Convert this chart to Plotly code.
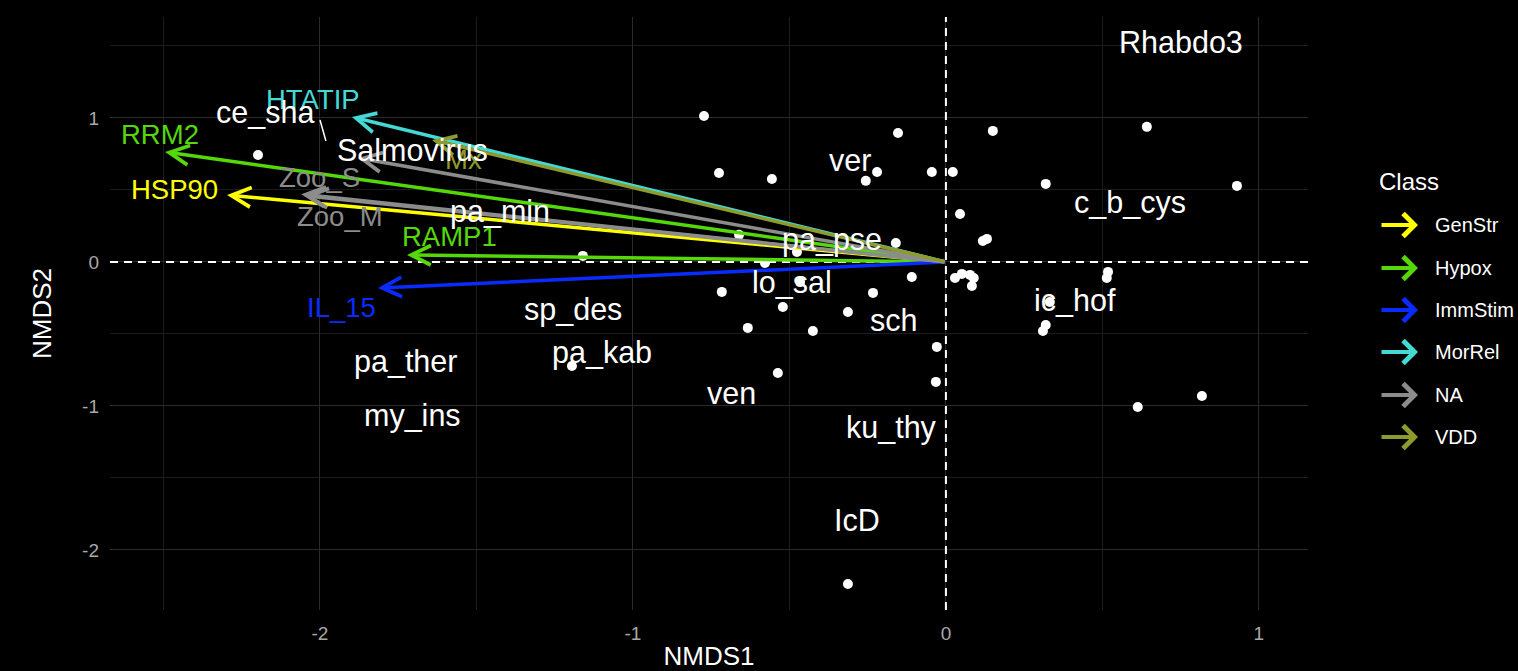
import plotly.graph_objects as go

# ---------------- data ----------------
# site scores (points)
pt_x = [-0.773, -2.198, -0.725, -0.556, -0.153, -0.220, -0.256, -0.045, 0.022, 0.045,
        0.150, 0.118, 0.131, 0.642, 0.319, 0.930, -0.160, -0.661, -0.476, -0.578,
        -1.160, -0.109, -0.466, -0.716, -0.233, -0.521, -0.313, -0.633, -0.425, -0.029,
        -0.537, -0.032, -0.313, -1.195, 0.029, 0.051, 0.077, 0.089, 0.083, 0.518,
        0.514, 0.332, 0.319, 0.310, 0.613, 0.818]
pt_y = [1.014, 0.743, 0.618, 0.576, 0.896, 0.625, 0.563, 0.625, 0.625, 0.333,
        0.910, 0.146, 0.160, 0.938, 0.542, 0.528, 0.132, 0.188, 0.069, -0.007,
        0.042, -0.104, -0.140, -0.208, -0.215, -0.313, -0.347, -0.458, -0.479, -0.590,
        -0.771, -0.833, -2.236, -0.722, -0.111, -0.083, -0.090, -0.111, -0.167, -0.069,
        -0.111, -0.278, -0.438, -0.479, -1.007, -0.931]

# species / pathogen labels
sp_names = ["Rhabdo3", "ce_sha", "Salmovirus", "ver", "c_b_cys", "pa_min", "pa_pse",
            "lo_sal", "ic_hof", "sch", "sp_des", "pa_kab", "pa_ther", "my_ins", "ven",
            "ku_thy", "IcD"]
sp_x = [0.751, -2.176, -1.706, -0.307, 0.588, -1.425, -0.364, -0.492, 0.412, -0.169,
        -1.192, -1.099, -1.728, -1.703, -0.684, -0.173, -0.284]
sp_y = [1.528, 1.042, 0.778, 0.708, 0.410, 0.347, 0.153, -0.139, -0.264, -0.403,
        -0.333, -0.632, -0.694, -1.063, -0.910, -1.153, -1.792]
# repel segment for ce_sha
seg_x = [-2.000, -1.981]
seg_y = [0.986, 0.840]

# gene vectors (arrows from origin)
vec_names = ["HSP90", "RRM2", "RAMP1", "IL_15", "HTATIP", "Zoo_S", "Zoo_M", "", "Mx"]
vec_class = ["GenStr", "Hypox", "Hypox", "ImmStim", "MorRel", "NA", "NA", "NA", "VDD"]
vec_x = [-2.297, -2.495, -1.722, -1.815, -1.898, -2.060, -2.050, -1.879, -1.642]
vec_y = [0.465, 0.764, 0.049, -0.181, 1.007, 0.470, 0.460, 0.722, 0.847]
vlab_x = [-2.466, -2.511, -1.585, -1.930, -2.022, -2.000, -1.936, None, -1.543]
vlab_y = [0.500, 0.882, 0.174, -0.319, 1.125, 0.583, 0.313, None, 0.708]

classes = ["GenStr", "Hypox", "ImmStim", "MorRel", "NA", "VDD"]
class_colors = ["#FFFF00", "#55D80A", "#0A2BFF", "#45D9D6", "#8C8C8C", "#8E9B2C"]
cmap = dict(zip(classes, class_colors))

x_range = [-2.671, 1.157]
y_range = [-2.417, 1.701]
ticks = [-2, -1, 0, 1]

FONT = "Liberation Sans, Arial, sans-serif"

# ---------------- figure ----------------
fig = go.Figure()

# dashed zero reference lines (spanning the axis ranges)
fig.add_trace(go.Scatter(
    x=x_range, y=[0, 0], mode="lines",
    line=dict(color="white", width=2, dash="8px,6px"),
    showlegend=False, hoverinfo="skip"))
fig.add_trace(go.Scatter(
    x=[0, 0], y=y_range, mode="lines",
    line=dict(color="white", width=2, dash="8px,6px"),
    showlegend=False, hoverinfo="skip"))

fig.add_trace(go.Scatter(
    x=pt_x, y=pt_y, mode="markers",
    marker=dict(color="white", size=10, line=dict(width=0)),
    showlegend=False, hoverinfo="skip"))

fig.add_trace(go.Scatter(
    x=seg_x, y=seg_y, mode="lines",
    line=dict(color="white", width=1.5),
    showlegend=False, hoverinfo="skip"))

annotations = []
# arrows
for name, cl, tx, ty in zip(vec_names, vec_class, vec_x, vec_y):
    annotations.append(dict(
        x=tx, y=ty, xref="x", yref="y", ax=0, ay=0, axref="x", ayref="y",
        text="", showarrow=True, arrowhead=5, arrowsize=1.1, arrowwidth=3.5,
        arrowcolor=cmap[cl], standoff=0))
# arrow labels
for name, cl, lx, ly in zip(vec_names, vec_class, vlab_x, vlab_y):
    if not name:
        continue
    annotations.append(dict(
        x=lx, y=ly, xref="x", yref="y", text=name, showarrow=False,
        font=dict(family=FONT, size=27.5, color=cmap[cl]),
        xanchor="center", yanchor="middle"))
# species labels
for name, lx, ly in zip(sp_names, sp_x, sp_y):
    annotations.append(dict(
        x=lx, y=ly, xref="x", yref="y", text=name, showarrow=False,
        font=dict(family=FONT, size=30.5, color="white"),
        xanchor="center", yanchor="middle"))

# manual legend (paper coordinates)
L, W, B, H = 110, 1198, 61, 593  # plot area in pixels
def px2paper(px, py):
    return (px - L) / W, (671 - B - py) / H

tx_, ty_ = px2paper(1377, 181)
annotations.append(dict(x=tx_, y=ty_, xref="paper", yref="paper", text="Class",
                        showarrow=False, xanchor="left", yanchor="middle",
                        font=dict(family=FONT, size=24, color="white")))
leg_y = [225, 268, 310, 352, 395, 437]
for cl, col, py in zip(classes, class_colors, leg_y):
    ax_, ay_ = px2paper(1418, py)
    annotations.append(dict(x=ax_, y=ay_, xref="paper", yref="paper", text="",
                            showarrow=True, ax=-38, ay=0, arrowhead=4, arrowsize=1.1,
                            arrowwidth=4, arrowcolor=col, standoff=0))
    lx_, ly_ = px2paper(1433, py)
    annotations.append(dict(x=lx_, y=ly_, xref="paper", yref="paper", text=cl,
                            showarrow=False, xanchor="left", yanchor="middle",
                            font=dict(family=FONT, size=20, color="white")))

axis_common = dict(
    showline=False, zeroline=False, ticks="", automargin=False,
    gridcolor="#2a2a2a", gridwidth=1.3,
    minor=dict(dtick=0.5, showgrid=True, gridcolor="#1c1c1c", gridwidth=1),
    tickfont=dict(family=FONT, size=19, color="#A8A8A8"),
    tickmode="array", tickvals=ticks, ticktext=[str(t) for t in ticks],
)

fig.update_layout(
    width=1518, height=671,
    paper_bgcolor="black", plot_bgcolor="black",
    margin=dict(l=L, r=1518 - L - W, t=671 - B - H, b=B, autoexpand=False),
    showlegend=False,
    annotations=annotations,
    xaxis=dict(range=x_range, title=dict(text="NMDS1", standoff=8,
               font=dict(family=FONT, size=26, color="white")),
               ticklabelstandoff=10, **axis_common),
    yaxis=dict(range=y_range, title=dict(text="NMDS2", standoff=22,
               font=dict(family=FONT, size=26, color="white")),
               ticklabelstandoff=10, **axis_common),
)

fig.write_html("out.html", config={"displayModeBar": False})

# remove the default page margin so the figure fills the window
with open("out.html", "r", encoding="utf-8") as f:
    html = f.read()
html = html.replace("<head>", "<head><style>html,body{margin:0;padding:0;background:#000;}</style>", 1)
with open("out.html", "w", encoding="utf-8") as f:
    f.write(html)
